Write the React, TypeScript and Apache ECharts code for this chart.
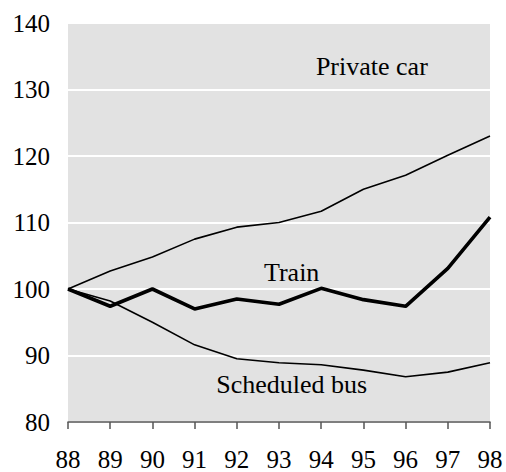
import React, { useEffect, useRef } from "react";
import * as echarts from "echarts";

const years = [88, 89, 90, 91, 92, 93, 94, 95, 96, 97, 98];
const privateCar = [100, 102.7, 104.8, 107.5, 109.3, 110, 111.7, 115, 117.1, 120.1, 123];
const train = [100, 97.4, 100, 97, 98.5, 97.7, 100.1, 98.4, 97.4, 103.1, 110.8];
const scheduledBus = [100, 98.2, 95, 91.6, 89.5, 88.9, 88.6, 87.8, 86.8, 87.5, 88.9];
const annotations = [
  { name: "Private car", coord: [95.2, 133.4] },
  { name: "Train", coord: [93.3, 102.5] },
  { name: "Scheduled bus", coord: [93.3, 85.7] },
];

const FONT = "'Liberation Serif', 'Times New Roman', serif";

export default function App() {
  const ref = useRef<HTMLDivElement>(null);
  useEffect(() => {
    if (!ref.current) return;
    const chart = echarts.init(ref.current, undefined, { renderer: "svg" });
    const pair = (arr: number[]) => years.map((y, i) => [y, arr[i]]);
    chart.setOption({
      animation: false,
      backgroundColor: "#ffffff",
      grid: {
        left: 68,
        right: 16,
        top: 23,
        bottom: 49,
        show: true,
        backgroundColor: "#e2e2e2",
        borderWidth: 0,
      },
      xAxis: {
        type: "value",
        min: 88,
        max: 98,
        interval: 1,
        axisLine: { show: true, lineStyle: { color: "#555", width: 1.5 } },
        axisTick: { show: true, length: 7, lineStyle: { color: "#555", width: 1.5 } },
        axisLabel: { fontFamily: FONT, fontSize: 25, color: "#000", margin: 25 },
        splitLine: { show: false },
      },
      yAxis: {
        type: "value",
        min: 80,
        max: 140,
        interval: 10,
        axisLine: { show: false },
        axisTick: { show: false },
        axisLabel: { fontFamily: FONT, fontSize: 25, color: "#000", margin: 18 },
        splitLine: { show: true, lineStyle: { color: "#ffffff", width: 2 } },
      },
      series: [
        {
          name: "Private car",
          type: "line",
          data: pair(privateCar),
          symbol: "none",
          lineStyle: { color: "#000", width: 1.6 },
          z: 3,
        },
        {
          name: "Scheduled bus",
          type: "line",
          data: pair(scheduledBus),
          symbol: "none",
          lineStyle: { color: "#000", width: 1.6 },
          z: 3,
        },
        {
          name: "Train",
          type: "line",
          data: pair(train),
          symbol: "none",
          lineStyle: { color: "#000", width: 3.6 },
          z: 4,
          markPoint: {
            symbol: "circle",
            symbolSize: 0,
            silent: true,
            label: {
              show: true,
              position: "inside",
              formatter: (p: any) => p.name,
              fontFamily: FONT,
              fontSize: 26,
              color: "#000",
            },
            data: annotations.map((a) => ({ name: a.name, coord: a.coord })),
          },
        },
      ],
    });
    return () => chart.dispose();
  }, []);
  return <div ref={ref} style={{ width: 506, height: 472, position: "absolute", left: 0, top: 0 }} />;
}
